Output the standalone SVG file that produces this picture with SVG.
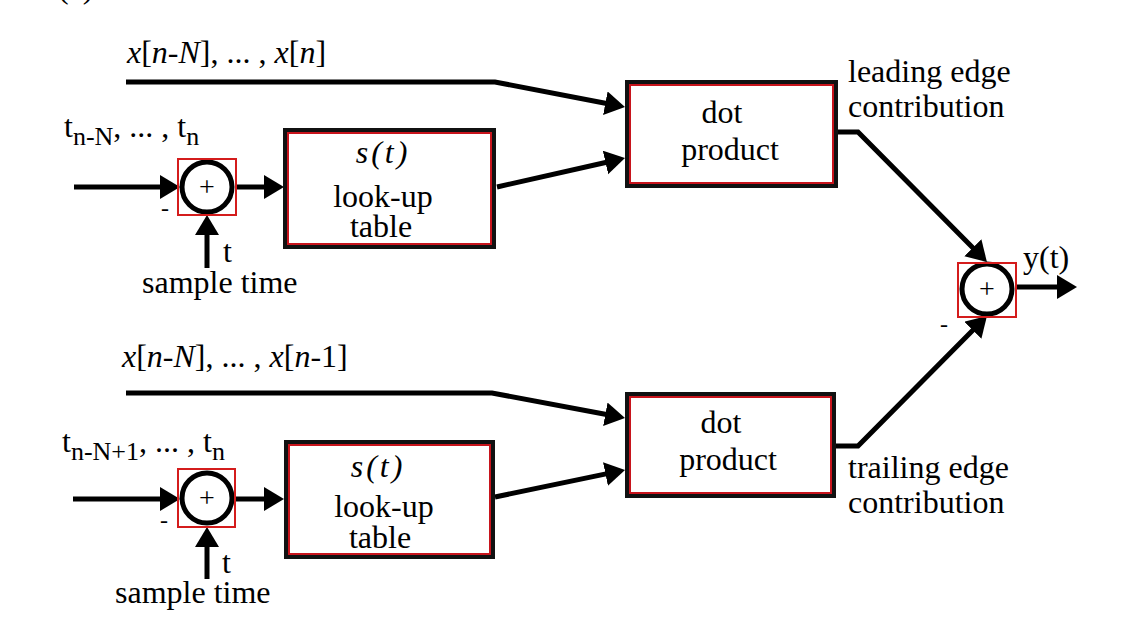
<svg xmlns="http://www.w3.org/2000/svg" width="1124" height="639" viewBox="0 0 1124 639" font-family="'Liberation Serif', 'DejaVu Serif', serif">
<defs>
<style>
text{font-family:'Liberation Serif','DejaVu Serif',serif;font-size:32px;fill:#000}
.it{font-style:italic}
.sub{font-size:26px}
.plus{font-size:28px}
.mid{text-anchor:middle}
.outer{fill:#fff;stroke:#111;stroke-width:4}
.inner{fill:none;stroke:#c8141c;stroke-width:2}
.sq{fill:none;stroke:#d41c1c;stroke-width:2}
.circ{fill:#fff;stroke:#000;stroke-width:5}
.wire{fill:none;stroke:#000;stroke-width:5;marker-end:url(#ah)}
</style>
<marker id="ah" markerUnits="userSpaceOnUse" markerWidth="22" markerHeight="26" refX="8" refY="12" orient="auto" viewBox="0 0 22 26">
<path d="M0,0 L20,12 L0,24 z" fill="#000"/>
</marker>
</defs>
<rect width="1124" height="639" fill="#fff"/>
<text x="58" y="-2">(a)</text>

<g id="connectors">
<path class="wire" d="M126,82 H495 L613.2,104.7"/>
<path class="wire" d="M497,187 L613.3,160.7"/>
<path class="wire" d="M74,187 H168"/>
<path class="wire" d="M236,187 H272"/>
<path class="wire" d="M207,268 V227"/>
<path class="wire" d="M838,132 H858 L978.5,253.5"/>
<path class="wire" d="M1016,287 H1065"/>
<path class="wire" d="M836,446 H858 L978.5,324.5"/>
<path class="wire" d="M126,393 H492 L613.2,415.8"/>
<path class="wire" d="M495,497 L613.3,472.4"/>
<path class="wire" d="M73,499 H168"/>
<path class="wire" d="M235,499 H272"/>
<path class="wire" d="M207,579 V539"/>
</g>

<g id="label-x-top"><text x="127" y="63"><tspan class="it">x</tspan>[<tspan class="it">n</tspan>-<tspan class="it">N</tspan>], ... , <tspan class="it">x</tspan>[<tspan class="it">n</tspan>]</text></g>
<g id="label-t-top"><text x="64" y="137">t<tspan class="sub" dy="8">n-N</tspan><tspan dy="-8">, ... , t</tspan><tspan class="sub" dy="8">n</tspan></text></g>

<g id="sum1">
<circle class="circ" cx="207" cy="187" r="25"/>
<rect class="sq" x="178" y="159" width="58" height="56"/>
<text class="plus mid" x="207" y="196">+</text>
<text x="161" y="216" style="font-size:24px">-</text>
</g>
<g id="label-sample-top"><text x="223" y="262">t</text><text x="142" y="293">sample time</text></g>

<g id="lut1">
<rect class="outer" x="285" y="130" width="209" height="117"/>
<rect class="inner" x="288" y="133" width="203" height="111"/>
<text class="it mid" x="383" y="163" style="letter-spacing:3px">s(t)</text>
<text class="mid" x="383" y="207">look-up</text>
<text class="mid" x="381" y="237">table</text>
</g>

<g id="dot1">
<rect class="outer" x="627" y="82" width="209" height="104"/>
<rect class="inner" x="630" y="85" width="203" height="98"/>
<text class="mid" x="722" y="123">dot</text>
<text class="mid" x="730" y="160">product</text>
</g>
<g id="label-leading"><text x="848" y="82">leading edge</text><text x="848" y="117">contribution</text></g>

<g id="sum3">
<circle class="circ" cx="987" cy="289" r="25"/>
<rect class="sq" x="958" y="263" width="58" height="54"/>
<text class="plus mid" x="987" y="298">+</text>
<text x="940" y="332" style="font-size:24px">-</text>
</g>
<g id="label-y"><text x="1023" y="268">y(t)</text></g>

<g id="label-x-bot"><text x="122" y="367"><tspan class="it">x</tspan>[<tspan class="it">n</tspan>-<tspan class="it">N</tspan>], ... , <tspan class="it">x</tspan>[<tspan class="it">n</tspan>-1]</text></g>
<g id="label-t-bot"><text x="62" y="452">t<tspan class="sub" dy="8">n-N+1</tspan><tspan dy="-8">, ... , t</tspan><tspan class="sub" dy="8">n</tspan></text></g>

<g id="sum2">
<circle class="circ" cx="207" cy="498" r="25"/>
<rect class="sq" x="178" y="469" width="57" height="58"/>
<text class="plus mid" x="207" y="507">+</text>
<text x="160" y="528" style="font-size:24px">-</text>
</g>
<g id="label-sample-bot"><text x="222" y="573">t</text><text x="115" y="603">sample time</text></g>

<g id="lut2">
<rect class="outer" x="286" y="442" width="207" height="115"/>
<rect class="inner" x="289" y="445" width="201" height="109"/>
<text class="it mid" x="378" y="477" style="letter-spacing:3px">s(t)</text>
<text class="mid" x="384" y="517">look-up</text>
<text class="mid" x="380" y="548">table</text>
</g>

<g id="dot2">
<rect class="outer" x="627" y="394" width="207" height="102"/>
<rect class="inner" x="630" y="397" width="201" height="96"/>
<text class="mid" x="721" y="433">dot</text>
<text class="mid" x="728" y="470">product</text>
</g>
<g id="label-trailing"><text x="848" y="478">trailing edge</text><text x="848" y="513">contribution</text></g>
</svg>
